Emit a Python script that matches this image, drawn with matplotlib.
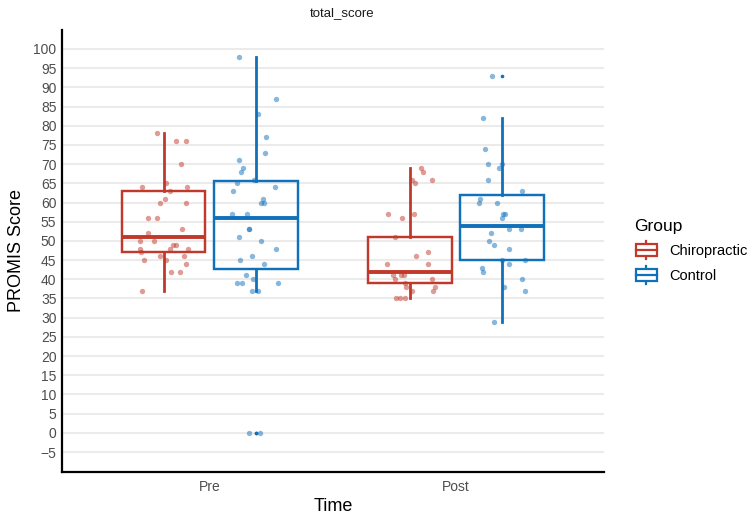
import matplotlib
matplotlib.use("Agg")
import matplotlib.pyplot as plt
from matplotlib.patches import Rectangle, Patch
from matplotlib.lines import Line2D
from matplotlib.legend_handler import HandlerBase

plt.rcParams['font.family'] = ['Liberation Sans', 'DejaVu Sans']

# ---------------- data ----------------
times = ["Pre", "Post"]
groups = ["Chiropractic", "Control"]
group_colors = ["#C0392B", "#1170BA"]

# box statistics: [Pre, Post]
chiro_whislo = [37, 35]
chiro_q1 = [47, 39]
chiro_med = [51, 42]
chiro_q3 = [63, 51]
chiro_whishi = [78, 69]
chiro_fliers = [[], []]

control_whislo = [37, 29]
control_q1 = [42.6, 45]
control_med = [56, 54]
control_q3 = [65.5, 62]
control_whishi = [98, 82]
control_fliers = [[0, 0], [93]]

# individual (jittered) observations: values and horizontal jitter
chiro_pre = [78, 76, 76, 70, 65, 64, 64, 63, 61, 60, 60, 56, 56, 53, 52, 50, 50,
             49, 49, 48, 48, 48, 47, 46, 46, 45, 45, 44, 42, 42, 37]
chiro_pre_jit = [-0.026, 0.052, 0.089, 0.072, 0.008, -0.089, 0.095, 0.024, 0.004,
                 -0.013, 0.092, -0.064, -0.028, 0.076, -0.064, -0.095, -0.038,
                 0.038, 0.049, -0.095, 0.024, 0.097, -0.092, -0.013, 0.084,
                 -0.081, 0.008, 0.092, 0.030, 0.068, -0.089]

control_pre = [98, 87, 83, 77, 73, 71, 69, 68, 66, 65, 64, 63, 61, 60, 60, 57, 57,
               53, 53, 51, 50, 48, 46, 45, 44, 41, 40, 39, 39, 39, 37, 37, 0, 0]
control_pre_jit = [-0.067, 0.080, 0.009, 0.039, 0.037, -0.068, -0.054, -0.062,
                   -0.009, -0.076, 0.078, -0.094, 0.028, 0.021, 0.034, -0.099,
                   -0.036, -0.029, -0.029, -0.071, 0.021, 0.082, -0.017, -0.064,
                   0.034, -0.039, -0.013, -0.076, -0.056, 0.091, -0.018, 0.009,
                   -0.027, 0.015]

chiro_post = [69, 68, 66, 66, 65, 57, 57, 56, 51, 47, 46, 44, 44, 41, 41, 41, 40,
              40, 39, 38, 38, 37, 37, 35, 35, 35]
chiro_post_jit = [0.045, 0.052, 0.009, 0.088, 0.022, -0.090, 0.017, -0.034,
                  -0.060, 0.072, 0.024, -0.092, 0.072, -0.069, -0.038, -0.024,
                  -0.060, 0.088, -0.020, -0.016, 0.100, 0.008, 0.092, -0.058,
                  -0.041, -0.022]

control_post = [93, 82, 74, 70, 70, 69, 66, 63, 61, 60, 60, 57, 57, 56, 53, 53, 52,
                50, 49, 48, 45, 45, 44, 43, 42, 40, 38, 37, 29]
control_post_jit = [-0.042, -0.078, -0.070, -0.057, -0.002, -0.015, -0.057, 0.079,
                    -0.089, -0.093, -0.020, 0.004, 0.011, 0.000, 0.027, 0.077,
                    -0.047, -0.054, -0.032, 0.028, -0.002, 0.091, 0.027, -0.082,
                    -0.078, 0.079, 0.007, 0.091, -0.034]

y_ticks = list(range(-5, 101, 5))

# ---------------- figure ----------------
fig = plt.figure(figsize=(7.55, 5.19), dpi=100)
ax = fig.add_axes([0.0821, 0.0906, 0.7179, 0.8516])

offsets = [-0.1875, 0.1875]
box_w = 0.34

stats_by_group = [
    (chiro_whislo, chiro_q1, chiro_med, chiro_q3, chiro_whishi, chiro_fliers),
    (control_whislo, control_q1, control_med, control_q3, control_whishi, control_fliers),
]
points_by_group = [
    [(chiro_pre, chiro_pre_jit), (chiro_post, chiro_post_jit)],
    [(control_pre, control_pre_jit), (control_post, control_post_jit)],
]

for g, (lo, q1, med, q3, hi, fl) in enumerate(stats_by_group):
    col = group_colors[g]
    stats = []
    for t in range(len(times)):
        stats.append(dict(whislo=lo[t], q1=q1[t], med=med[t], q3=q3[t],
                          whishi=hi[t], fliers=fl[t]))
    pos = [t + 1 + offsets[g] for t in range(len(times))]
    ax.bxp(stats, positions=pos, widths=box_w, showcaps=False, patch_artist=True,
           boxprops=dict(facecolor='none', edgecolor=col, linewidth=1.75),
           medianprops=dict(color=col, linewidth=2.8, solid_capstyle='butt'),
           whiskerprops=dict(color=col, linewidth=2.0),
           flierprops=dict(marker='o', markersize=2.6, markerfacecolor=col,
                           markeredgecolor='none'),
           manage_ticks=False, zorder=3)
    for t, (vals, jit) in enumerate(points_by_group[g]):
        xs = [t + 1 + offsets[g] + j for j in jit]
        ax.scatter(xs, vals, s=15, color=col, alpha=0.5, linewidths=0, zorder=4)

ax.set_xlim(0.4, 2.6)
ax.set_ylim(-10.2, 104.95)
ax.set_xticks([1, 2])
ax.set_xticklabels(times)
ax.set_yticks(y_ticks)
ax.set_yticklabels([str(v).replace('-', '\u2212') for v in y_ticks])
ax.tick_params(axis='both', length=0, labelsize=10, labelcolor='#4D4D4D', pad=4)
ax.tick_params(axis='x', pad=6)
ax.yaxis.grid(True, color='#EBEBEB', linewidth=1.5)
ax.xaxis.grid(False)
ax.set_axisbelow(True)
for s in ['top', 'right']:
    ax.spines[s].set_visible(False)
for s in ['left', 'bottom']:
    ax.spines[s].set_linewidth(1.6)
    ax.spines[s].set_color('black')

ax.set_xlabel("Time", fontsize=13, labelpad=3)
ax.set_ylabel("PROMIS Score", fontsize=13, labelpad=6)
fig.text(342 / 755, 1 - 13 / 519, "total_score", ha='center', va='center',
         fontsize=9.5, color='#1A1A1A')


class BoxHandler(HandlerBase):
    def create_artists(self, legend, orig_handle, xdescent, ydescent, width,
                       height, fontsize, trans):
        col = orig_handle.get_edgecolor()
        x0, y0 = -xdescent, -ydescent
        bx0 = x0 + width * 0.05
        bw = width * 0.9
        by0 = y0 + height * 0.18
        bh = height * 0.64
        cx = x0 + width / 2
        arts = [
            Line2D([cx, cx], [y0, by0], color=col, lw=1.6),
            Line2D([cx, cx], [by0 + bh, y0 + height], color=col, lw=1.6),
            Rectangle((bx0, by0), bw, bh, facecolor='white', edgecolor=col, lw=1.6),
            Line2D([bx0, bx0 + bw], [by0 + bh / 2] * 2, color=col, lw=1.6),
        ]
        for a in arts:
            a.set_transform(trans)
        return arts


handles = [Patch(edgecolor=c, facecolor='none') for c in group_colors]
leg = fig.legend(handles, groups, title="Group", loc='center left',
                 bbox_to_anchor=(0.823, 0.515), frameon=False, fontsize=10.5,
                 title_fontsize=12.5, handler_map={Patch: BoxHandler()},
                 handlelength=1.6, handleheight=1.55, handletextpad=0.8,
                 labelspacing=0.45)
leg._legend_box.align = "left"

fig.savefig("out.png", dpi=100)
